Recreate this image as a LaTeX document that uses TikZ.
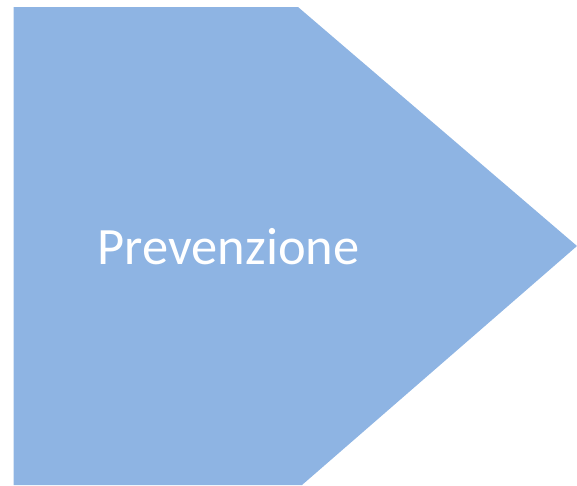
\documentclass[tikz,border=0pt]{standalone}
\usepackage{fontspec}
\setmainfont{Carlito}
\usetikzlibrary{positioning}
\definecolor{skyblue}{HTML}{8EB4E3}

\begin{document}
\begin{tikzpicture}[x=1pt,y=-1pt,
plate/.style={fill=skyblue,draw=none},
label/.style={text=white,font=\fontsize{52.5}{60}\selectfont,inner sep=0pt,anchor=base west}
]
\useasboundingbox (0,0) rectangle (577,485);
\coordinate (nw) at (13.5,7);
\coordinate (ne) at (298,7);
\coordinate (tip) at (577,246);
\coordinate (se) at (302,485);
\coordinate (sw) at (13.5,485);
\fill[plate] (nw) -- (ne) -- (tip) -- (se) -- (sw) -- cycle;
\node[label] (prev) at (97.5,264) {Prevenzione};
\end{tikzpicture}
\end{document}
